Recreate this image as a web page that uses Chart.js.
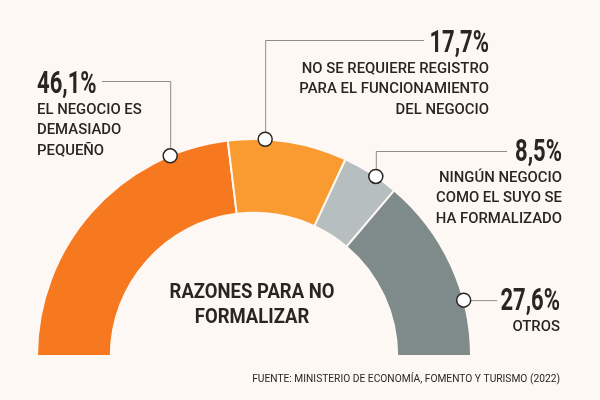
<!DOCTYPE html>
<html><head><meta charset="utf-8">
<script src="https://cdn.jsdelivr.net/npm/chart.js@4"></script>
<style>html,body{margin:0;padding:0;background:#FDF8F3;} #wrap{width:600px;height:400px;position:relative;}</style>
</head><body><div id="wrap"><canvas id="c" width="600" height="400"></canvas></div>
<script>
const categories = [['EL NEGOCIO ES','DEMASIADO','PEQUEÑO'], ['NO SE REQUIERE REGISTRO','PARA EL FUNCIONAMIENTO','DEL NEGOCIO'], ['NINGÚN NEGOCIO','COMO EL SUYO SE','HA FORMALIZADO'], ['OTROS']];
const values = [46.1, 17.7, 8.5, 27.6];
const colors = ['#F6791F', '#FA9B31', '#B6BEBF', '#7E8B8A'];
const centerTitle = ['RAZONES PARA NO', 'FORMALIZAR'];
const source = 'FUENTE: MINISTERIO DE ECONOMÍA, FOMENTO Y TURISMO (2022)';

// label styling / placement
const labelLayout = [
  {frac: 0.81, align: 'left',  x: 37,  numBase: 93,  lineY: 81,  lineEndX: 102},
  {frac: 0.31, align: 'right', x: 489, numBase: 52,  lineY: 40,  lineEndX: 424},
  {frac: 0.60, align: 'right', x: 562, numBase: 161, lineY: 151, lineEndX: 507},
  {frac: 0.70, align: 'right', x: 560, numBase: 310, lineY: null, lineEndX: 497}
];
const BG = '#FDF8F3';
const INK = '#2A2520';

function txt(ctx, s, x, y, font, align, sx, baseline) {
  ctx.save();
  ctx.font = font; ctx.fillStyle = INK; ctx.textAlign = align; ctx.textBaseline = baseline || 'alphabetic';
  ctx.translate(x, y); ctx.scale(sx, 1); ctx.fillText(s, 0, 0);
  ctx.restore();
}

const annot = {
  id: 'annot',
  afterDatasetsDraw(chart) {
    const ctx = chart.ctx;
    const meta = chart.getDatasetMeta(0);
    meta.data.forEach((arc, i) => {
      const p = arc.getProps(['x', 'y', 'startAngle', 'endAngle', 'outerRadius'], true);
      const L = labelLayout[i];
      const a = p.startAngle + L.frac * (p.endAngle - p.startAngle);
      const mx = p.x + Math.cos(a) * p.outerRadius;
      const my = p.y + Math.sin(a) * p.outerRadius;
      const ly = L.lineY === null ? my : L.lineY;
      ctx.save();
      ctx.strokeStyle = '#8C8C8C'; ctx.lineWidth = 1;
      ctx.beginPath();
      ctx.moveTo(mx + 0.5, my); ctx.lineTo(mx + 0.5, ly + 0.5); ctx.lineTo(L.lineEndX, ly + 0.5);
      ctx.stroke();
      ctx.beginPath(); ctx.arc(mx, my, 7, 0, Math.PI * 2);
      ctx.fillStyle = '#FFFFFF'; ctx.fill();
      ctx.strokeStyle = '#2A2520'; ctx.lineWidth = 1.5; ctx.stroke();
      ctx.restore();
      const num = values[i].toFixed(1).replace('.', ',') + '%';
      txt(ctx, num, L.x, L.numBase, 'bold 31px Roboto', L.align, 0.71);
      categories[i].forEach((line, j) => {
        txt(ctx, line, L.x, L.numBase + 17 + j * 20.5, '500 15.5px Roboto', L.align, 0.96, 'middle');
      });
    });
    txt(ctx, centerTitle[0], 252, 293, 'bold 21px Roboto', 'center', 0.88, 'middle');
    txt(ctx, centerTitle[1], 252, 318, 'bold 21px Roboto', 'center', 0.88, 'middle');
    txt(ctx, source, 560, 379, '11px Roboto', 'right', 0.93, 'middle');
  }
};

new Chart(document.getElementById('c'), {
  type: 'doughnut',
  data: {
    labels: categories.map(c => c.join(' ')),
    datasets: [{
      data: values,
      backgroundColor: colors,
      borderColor: BG,
      borderWidth: 2,
      hoverOffset: 0
    }]
  },
  options: {
    responsive: false,
    animation: false,
    rotation: -90,
    circumference: 180,
    cutout: '66%',
    layout: {padding: {left: 36, right: 128, top: 138, bottom: 43}},
    plugins: {legend: {display: false}, tooltip: {enabled: false}},
    events: []
  },
  plugins: [annot]
});
</script>
</body></html>
